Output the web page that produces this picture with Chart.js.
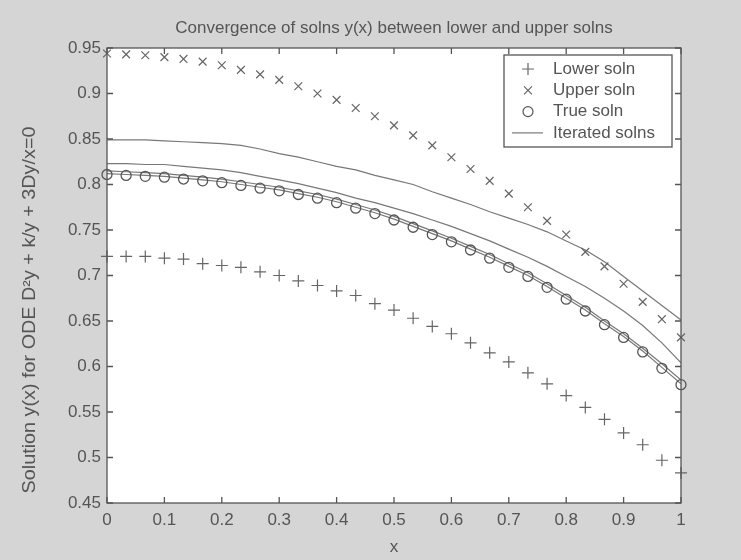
<!DOCTYPE html>
<html>
<head>
<meta charset="utf-8">
<script src="https://cdn.jsdelivr.net/npm/chart.js@4.4.0/dist/chart.umd.min.js"></script>
<style>
html, body { margin: 0; padding: 0; background: #d5d5d5; }
</style>
</head>
<body>
<canvas id="myChart" width="741" height="560"></canvas>
<script>
// x grid of the solutions (31 points on [0,1])
const xs = [0, 0.0333, 0.0667, 0.1, 0.1333, 0.1667, 0.2, 0.2333, 0.2667, 0.3, 0.3333,
    0.3667, 0.4, 0.4333, 0.4667, 0.5, 0.5333, 0.5667, 0.6, 0.6333, 0.6667,
    0.7, 0.7333, 0.7667, 0.8, 0.8333, 0.8667, 0.9, 0.9333, 0.9667, 1];

const lowerSoln = [0.721, 0.721, 0.721, 0.719, 0.718, 0.713, 0.711, 0.709, 0.704, 0.700, 0.694,
    0.689, 0.683, 0.678, 0.669, 0.662, 0.653, 0.644, 0.636, 0.626, 0.615,
    0.605, 0.593, 0.581, 0.568, 0.555, 0.542, 0.527, 0.514, 0.497, 0.483];

const upperSoln = [0.944, 0.943, 0.942, 0.940, 0.938, 0.935, 0.931, 0.926, 0.921, 0.915, 0.908,
    0.900, 0.893, 0.884, 0.875, 0.865, 0.854, 0.843, 0.830, 0.817, 0.804,
    0.790, 0.775, 0.760, 0.745, 0.726, 0.710, 0.691, 0.671, 0.652, 0.632];

const trueSoln = [0.811, 0.810, 0.809, 0.808, 0.806, 0.804, 0.802, 0.799, 0.796, 0.793, 0.789,
    0.785, 0.780, 0.774, 0.768, 0.761, 0.753, 0.745, 0.737, 0.728, 0.719,
    0.709, 0.699, 0.687, 0.674, 0.661, 0.646, 0.632, 0.616, 0.598, 0.580];

// iterated solutions
const iter1 = [0.849, 0.849, 0.849, 0.848, 0.847, 0.846, 0.845, 0.843, 0.839, 0.834, 0.830,
    0.825, 0.820, 0.816, 0.810, 0.805, 0.800, 0.792, 0.785, 0.778, 0.770,
    0.763, 0.756, 0.748, 0.738, 0.728, 0.715, 0.699, 0.683, 0.667, 0.651];
const iter2 = [0.823, 0.823, 0.822, 0.822, 0.820, 0.818, 0.816, 0.813, 0.809, 0.805, 0.801,
    0.796, 0.791, 0.785, 0.780, 0.774, 0.768, 0.761, 0.754, 0.746, 0.738,
    0.729, 0.720, 0.710, 0.699, 0.688, 0.675, 0.661, 0.645, 0.626, 0.604];
const iter3 = [0.815, 0.814, 0.813, 0.812, 0.810, 0.808, 0.806, 0.803, 0.800, 0.797, 0.793,
    0.789, 0.784, 0.778, 0.772, 0.765, 0.757, 0.749, 0.741, 0.732, 0.723,
    0.713, 0.703, 0.691, 0.678, 0.665, 0.650, 0.636, 0.620, 0.603, 0.585];
const iter4 = [0.812, 0.811, 0.810, 0.809, 0.807, 0.805, 0.803, 0.800, 0.797, 0.794, 0.790,
    0.786, 0.781, 0.775, 0.769, 0.762, 0.754, 0.746, 0.738, 0.729, 0.720,
    0.710, 0.700, 0.688, 0.675, 0.662, 0.647, 0.633, 0.617, 0.599, 0.581];

const titleText = 'Convergence of solns y(x) between lower and upper solns';
const xTitle = 'x';
const yTitle = 'Solution y(x) for ODE D\u00b2y + k/y + 3Dy/x=0';

const ink = '#555555';
const markColor = '#666666';
const lineColor = '#787878';
const fontName = "'Liberation Sans', Arial, sans-serif";

function pts(ys) {
    return xs.map(function (x, i) { return { x: x, y: ys[i] }; });
}

Chart.defaults.font.family = fontName;
Chart.defaults.font.size = 17;
Chart.defaults.color = ink;

// grey figure, white axes, inward ticks on all four sides, legend box
const matlabFrame = {
    id: 'matlabFrame',
    beforeDraw(chart) {
        const ctx = chart.ctx, a = chart.chartArea;
        ctx.save();
        ctx.fillStyle = '#d5d5d5';
        ctx.fillRect(0, 0, chart.width, chart.height);
        ctx.fillStyle = '#ffffff';
        ctx.fillRect(a.left, a.top, a.right - a.left, a.bottom - a.top);
        ctx.fillStyle = ink;
        ctx.font = '17px ' + fontName;
        ctx.textAlign = 'center';
        ctx.textBaseline = 'middle';
        ctx.fillText(titleText, (a.left + a.right) / 2, 28);

        // y label, a bit stretched like the scanned original
        ctx.translate(30, 310);
        ctx.rotate(-Math.PI / 2);
        ctx.scale(1.1, 1);
        ctx.font = '18px ' + fontName;
        ctx.fillText(yTitle, 0, 0);
        ctx.restore();
    },
    afterDraw(chart) {
        const ctx = chart.ctx, a = chart.chartArea;
        const sx = chart.scales.x, sy = chart.scales.y;
        ctx.save();
        ctx.strokeStyle = ink;
        ctx.lineWidth = 1.3;
        ctx.strokeRect(a.left, a.top, a.right - a.left, a.bottom - a.top);
        ctx.beginPath();
        sx.ticks.forEach(function (t) {
            const p = sx.getPixelForValue(t.value);
            ctx.moveTo(p, a.bottom); ctx.lineTo(p, a.bottom - 6);
            ctx.moveTo(p, a.top); ctx.lineTo(p, a.top + 6);
        });
        sy.ticks.forEach(function (t) {
            const p = sy.getPixelForValue(t.value);
            ctx.moveTo(a.left, p); ctx.lineTo(a.left + 6, p);
            ctx.moveTo(a.right, p); ctx.lineTo(a.right - 6, p);
        });
        ctx.stroke();

        // legend
        const lx = 504, ly = 55, lw = 168, lh = 92;
        ctx.fillStyle = '#ffffff';
        ctx.fillRect(lx, ly, lw, lh);
        ctx.strokeRect(lx, ly, lw, lh);
        const items = chart.data.datasets.filter(function (d) { return d.label; });
        ctx.font = '17px ' + fontName;
        ctx.textAlign = 'left';
        ctx.textBaseline = 'middle';
        items.forEach(function (d, i) {
            const y = ly + 14 + i * 21.3;
            const cx = lx + 24;
            ctx.strokeStyle = d.borderColor;
            ctx.lineWidth = 1.2;
            ctx.beginPath();
            if (d.pointStyle === 'cross') {
                ctx.moveTo(cx - 6, y); ctx.lineTo(cx + 6, y);
                ctx.moveTo(cx, y - 6); ctx.lineTo(cx, y + 6);
            } else if (d.pointStyle === 'crossRot') {
                ctx.moveTo(cx - 4, y - 4); ctx.lineTo(cx + 4, y + 4);
                ctx.moveTo(cx - 4, y + 4); ctx.lineTo(cx + 4, y - 4);
            } else if (d.pointStyle === 'circle') {
                ctx.arc(cx, y, 5, 0, Math.PI * 2);
            } else {
                ctx.moveTo(lx + 8, y); ctx.lineTo(lx + 39, y);
            }
            ctx.stroke();
            ctx.fillStyle = ink;
            ctx.fillText(d.label, lx + 49, y);
        });
        ctx.restore();
    }
};

const data = {
    datasets: [
        {
            label: 'Lower soln',
            data: pts(lowerSoln),
            showLine: false,
            pointStyle: 'cross',
            pointRadius: 6,
            borderColor: markColor,
            borderWidth: 1.2,
            clip: false
        }, {
            label: 'Upper soln',
            data: pts(upperSoln),
            showLine: false,
            pointStyle: 'crossRot',
            pointRadius: 5.5,
            borderColor: markColor,
            borderWidth: 1.2,
            clip: false
        }, {
            label: 'True soln',
            data: pts(trueSoln),
            showLine: false,
            pointStyle: 'circle',
            pointRadius: 5,
            backgroundColor: 'rgba(0,0,0,0)',
            borderColor: ink,
            borderWidth: 1.3,
            clip: false
        }, {
            label: 'Iterated solns',
            data: pts(iter1),
            showLine: true,
            pointRadius: 0,
            borderColor: lineColor,
            borderWidth: 1.2
        }, {
            data: pts(iter2),
            showLine: true,
            pointRadius: 0,
            borderColor: lineColor,
            borderWidth: 1.2
        }, {
            data: pts(iter3),
            showLine: true,
            pointRadius: 0,
            borderColor: lineColor,
            borderWidth: 1.2
        }, {
            data: pts(iter4),
            showLine: true,
            pointRadius: 0,
            borderColor: lineColor,
            borderWidth: 1.2
        }
    ]
};

const config = {
    type: 'scatter',
    data: data,
    options: {
        responsive: false,
        animation: false,
        devicePixelRatio: 1,
        layout: { padding: { left: 0, top: 48, right: 60, bottom: 0 } },
        plugins: {
            legend: { display: false },
            tooltip: { enabled: false }
        },
        scales: {
            x: {
                type: 'linear',
                min: 0,
                max: 1,
                grid: { display: false, drawTicks: false },
                border: { display: false },
                ticks: {
                    stepSize: 0.1,
                    padding: 7,
                    callback: function (v) { return String(parseFloat(v.toFixed(2))); }
                },
                title: { display: true, text: xTitle, padding: { top: 0, bottom: 2 } },
                afterFit: function (s) { s.height = 57; }
            },
            y: {
                type: 'linear',
                min: 0.45,
                max: 0.95,
                grid: { display: false, drawTicks: false },
                border: { display: false },
                ticks: {
                    stepSize: 0.05,
                    padding: 6,
                    callback: function (v) { return String(parseFloat(v.toFixed(2))); }
                },
                afterFit: function (s) { s.width = 107; }
            }
        }
    },
    plugins: [matlabFrame]
};

const myChart = new Chart(document.getElementById('myChart'), config);
</script>
</body>
</html>
